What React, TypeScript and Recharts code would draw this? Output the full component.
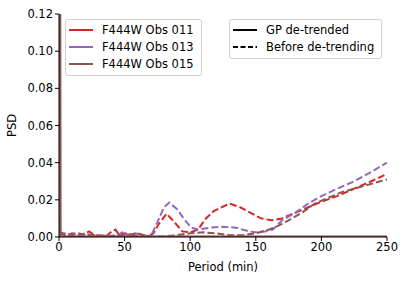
import { LineChart, Line, XAxis, YAxis } from 'recharts';

const RED = '#d62728';
const PURPLE = '#9467bd';
const BROWN = '#8c564b';

const xTicks = [0, 50, 100, 150, 200, 250];
const yTicks = [0, 0.02, 0.04, 0.06, 0.08, 0.1, 0.12];

// before de-trending (dashed): [period, psd]
const obs011Raw = [
    [0, 0.003], [3, 0.002], [6, 0.001], [10, 0.002], [15, 0.001], [20, 0.002], [23, 0.003], [27, 0.001],
    [32, 0.0005], [37, 0.001], [40, 0.003], [43, 0.004], [46, 0.001], [50, 0.002], [55, 0.001], [62, 0.0005],
    [68, 0.0003], [72, 0.002], [76, 0.007], [82, 0.0125], [88, 0.008], [94, 0.003], [100, 0.0025], [106, 0.004],
    [112, 0.01], [118, 0.014], [124, 0.016], [130, 0.018], [138, 0.016], [146, 0.013], [154, 0.01], [162, 0.009],
    [170, 0.01], [180, 0.013], [190, 0.016], [200, 0.019], [212, 0.022], [225, 0.026], [238, 0.03], [250, 0.034],
];
const obs013Raw = [
    [0, 0.001], [4, 0.002], [8, 0.001], [12, 0.002], [17, 0.001], [20, 0.002], [25, 0.001], [30, 0.0005],
    [38, 0.0005], [45, 0.001], [49, 0.003], [52, 0.001], [58, 0.002], [64, 0.001], [70, 0.0003], [75, 0.008],
    [80, 0.016], [84, 0.0185], [90, 0.015], [96, 0.009], [101, 0.005], [106, 0.004], [115, 0.005], [125, 0.0055],
    [135, 0.005], [145, 0.003], [150, 0.0025], [157, 0.003], [163, 0.004], [170, 0.009], [180, 0.013], [190, 0.018],
    [200, 0.022], [212, 0.026], [225, 0.03], [238, 0.035], [250, 0.04],
];
const obs015Raw = [
    [0, 0.002], [5, 0.001], [10, 0.001], [15, 0.002], [20, 0.001], [30, 0.001], [40, 0.0005], [50, 0.001],
    [60, 0.002], [65, 0.001], [70, 0.0003], [80, 0.0003], [90, 0.001], [100, 0.002], [110, 0.0025], [120, 0.002],
    [130, 0.001], [140, 0.001], [150, 0.002], [160, 0.004], [167, 0.006], [175, 0.009], [185, 0.013], [195, 0.018],
    [205, 0.021], [215, 0.024], [230, 0.027], [250, 0.031],
];

// GP de-trended (solid): spike at the shortest period, then ~0
const obs011Gp = [[0.2, 0.6], [1, 0.0003], [50, 0.0002], [150, 0.0001], [250, 0.0001]];
const obs013Gp = [[0.2, 0.6], [1, 0.0003], [50, 0.0002], [150, 0.0001], [250, 0.0001]];
const obs015Gp = [[0.2, 0.6], [1, 0.0003], [50, 0.0002], [150, 0.0001], [250, 0.0001]];

const toRows = (pts: number[][]) => pts.map(([period, psd]) => ({ period, psd }));

const series = [
    { name: 'F444W Obs 011', color: RED, raw: obs011Raw, gp: obs011Gp },
    { name: 'F444W Obs 013', color: PURPLE, raw: obs013Raw, gp: obs013Gp },
    { name: 'F444W Obs 015', color: BROWN, raw: obs015Raw, gp: obs015Gp },
];

const font = 'DejaVu Sans, sans-serif';
const tickStyle = { fill: '#000', fontSize: 11.5, fontFamily: font };

const legendBox: React.CSSProperties = {
    position: 'absolute',
    background: 'rgba(255,255,255,0.8)',
    border: '1px solid #d0d0d0',
    borderRadius: 3,
    fontFamily: font,
    fontSize: 11.5,
    color: '#000',
};

function Entry({ top, color, dashed, label, lineLeft, textLeft }: any) {
    return (
        <div style={{ position: 'absolute', top: top - 8, left: 0, height: 16, whiteSpace: 'nowrap' }}>
            <svg width={26} height={16} style={{ position: 'absolute', left: lineLeft, top: 0 }}>
                <line x1={0} y1={8} x2={24} y2={8} stroke={color} strokeWidth={2} strokeDasharray={dashed ? '5 2.5' : undefined} />
            </svg>
            <span style={{ position: 'absolute', left: textLeft, top: 0, lineHeight: '16px' }}>{label}</span>
        </div>
    );
}

export default function App() {
    return (
        <div style={{ position: 'absolute', left: 0, top: 0, width: 407, height: 281, background: '#fff' }}>
            <LineChart width={407} height={281} margin={{ top: 14, right: 20, bottom: 0, left: 0 }}>
                <XAxis
                    type="number"
                    dataKey="period"
                    domain={[0, 250]}
                    ticks={xTicks}
                    allowDataOverflow
                    height={44}
                    stroke="#000"
                    tickSize={4}
                    tick={tickStyle}
                    label={{ value: 'Period (min)', position: 'insideBottom', offset: 10, style: { ...tickStyle } }}
                />
                <XAxis xAxisId="top" orientation="top" type="number" domain={[0, 250]} height={0} tick={false} tickLine={false} stroke="#000" />
                <YAxis
                    type="number"
                    domain={[0, 0.12]}
                    ticks={yTicks}
                    allowDataOverflow
                    width={59}
                    stroke="#000"
                    tickSize={4}
                    tick={tickStyle}
                    tickFormatter={(v: number) => v.toFixed(2)}
                    label={{ value: 'PSD', angle: -90, position: 'insideLeft', offset: 12, style: { ...tickStyle, textAnchor: 'middle' } }}
                />
                <YAxis yAxisId="right" orientation="right" domain={[0, 0.12]} width={0} tick={false} tickLine={false} stroke="#000" />
                {series.map((s) => (
                    <Line
                        key={s.name + '-raw'}
                        data={toRows(s.raw)}
                        dataKey="psd"
                        type="linear"
                        stroke={s.color}
                        strokeWidth={2}
                        strokeDasharray="7 3"
                        dot={false}
                        isAnimationActive={false}
                    />
                ))}
                {series.map((s) => (
                    <Line
                        key={s.name + '-gp'}
                        data={toRows(s.gp)}
                        dataKey="psd"
                        type="linear"
                        stroke={s.color}
                        strokeWidth={2}
                        dot={false}
                        isAnimationActive={false}
                    />
                ))}
            </LineChart>

            <div style={{ ...legendBox, left: 65, top: 19, width: 135, height: 55 }}>
                {series.map((s, i) => (
                    <Entry key={s.name} top={10 + i * 17} color={s.color} label={s.name} lineLeft={3} textLeft={36} />
                ))}
            </div>
            <div style={{ ...legendBox, left: 229, top: 19, width: 151, height: 38 }}>
                <Entry top={10} color="#000" label="GP de-trended" lineLeft={3} textLeft={36} />
                <Entry top={27} color="#000" dashed label="Before de-trending" lineLeft={3} textLeft={36} />
            </div>
        </div>
    );
}
